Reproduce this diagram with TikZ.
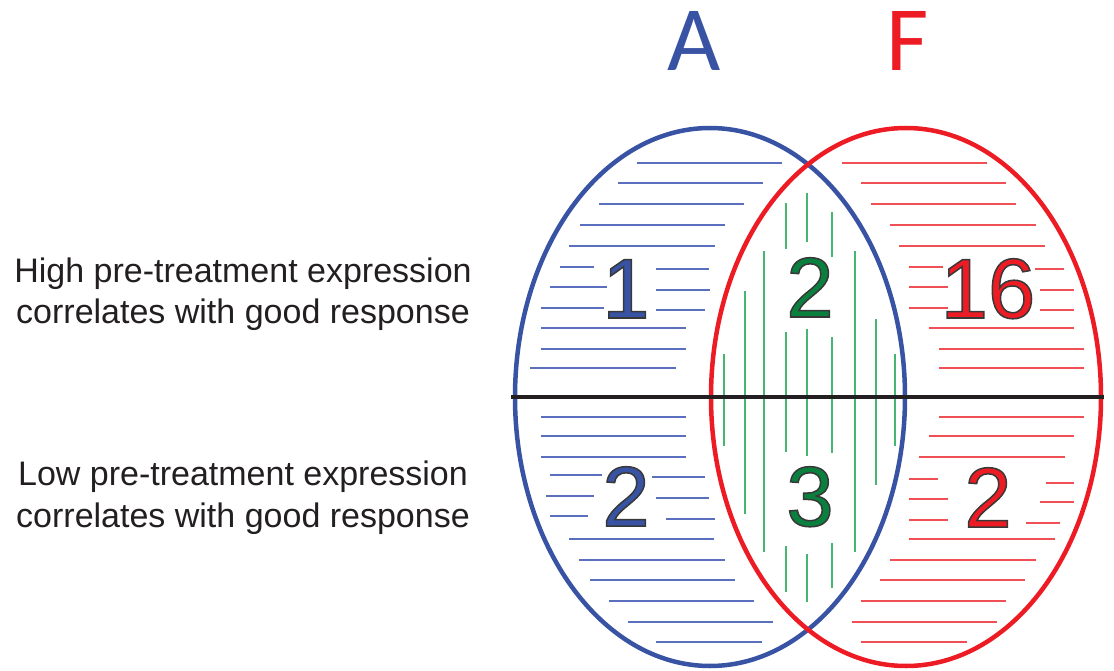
\documentclass[tikz,border=0pt]{standalone}
\usepackage{fontspec}
\setmainfont{Liberation Sans}
\newfontfamily\calfont{Carlito}
\definecolor{blueA}{RGB}{57,83,164}
\definecolor{redF}{RGB}{237,28,36}
\definecolor{greenN}{RGB}{10,128,62}
\definecolor{greenL}{RGB}{70,182,115}
\definecolor{blueL}{RGB}{90,112,190}
\definecolor{redL}{RGB}{240,80,85}
\definecolor{textc}{RGB}{35,31,32}
\newcommand\outnum[2]{\special{pdf:literal direct q}{\color{#1}\special{pdf:literal direct 2 Tr 1.5 w 0.22 0.22 0.22 RG}#2}\special{pdf:literal direct Q}}
\tikzset{
  hatchB/.style={draw=blueL, line width=1.3pt},
  hatchR/.style={draw=redL, line width=1.3pt},
  hatchG/.style={draw=greenL, line width=1.3pt},
  ring/.style={line width=4.5pt},
  numlabel/.style={anchor=base, inner sep=0pt, font=\fontsize{85}{85}\selectfont},
  sidelabel/.style={anchor=base, inner sep=0pt, text=textc, font=\fontsize{34}{40}\selectfont},
  setlabel/.style={anchor=base, inner sep=0pt, font=\calfont\fontsize{92}{92}\selectfont}
}
\begin{document}
\begin{tikzpicture}[x=1pt,y=-1pt]
\useasboundingbox (0,0) rectangle (1114,671);
% hatching
\foreach \y/\xa/\xb in {163/637/782, 183/618/763, 204/599/744, 225/580/725, 246/569/715, 267/560/594, 269/656/709, 287/550/607, 290/656/710, 308/541/604, 310/656/705, 328/541/686, 349/541/686, 368/530/676,
 417/541/686, 436/541/686, 457/541/686, 475/550/602, 477/652/705, 496/546/594, 498/656/709, 516/550/588, 519/666/715, 539/569/714, 560/579/725, 580/590/735, 601/609/754, 622/628/773, 642/656/762}
  \draw[hatchB] (\xa,\y) -- (\xb,\y);
\foreach \y/\xa/\xb in {163/842/987, 183/861/1006, 204/871/1016, 225/890/1036, 246/899/1045, 267/909/943, 269/1035/1064, 287/909/948, 290/1040/1074, 308/909/948, 310/1040/1074, 328/929/1074, 349/939/1084, 368/939/1084,
 417/939/1084, 436/929/1074, 457/919/1065, 479/909/938, 483/1046/1074, 499/909/948, 502/1040/1074, 520/909/948, 523/1026/1060, 539/909/1055, 560/890/1036, 580/880/1025, 601/861/1006, 622/852/997, 642/861/967}
  \draw[hatchR] (\xa,\y) -- (\xb,\y);
\foreach \x/\ya/\yb in {724/354/446, 745/291/514, 764/251/552, 786/203/249, 786/332/452, 786/546/592, 807/193/242, 807/329/456, 807/554/602, 832/212/257, 832/337/453, 832/543/588, 855/251/552, 876/319/485, 895/354/446}
  \draw[hatchG] (\x,\ya) -- (\x,\yb);
% sets
\draw[ring, draw=blueA] (710,397) ellipse [x radius=195, y radius=269];
\draw[ring, draw=redF] (906,397) ellipse [x radius=195, y radius=269];
% divider
\coordinate (divL) at (511,397);
\coordinate (divR) at (1104,397);
\draw[line width=4.8pt, draw=textc] (divL) -- (divR);
% set labels
\node[setlabel, text=blueA] (setA) at (694,71) {A};
\node[setlabel, text=redF] (setF) at (908,71) {F};
% counts
\node[numlabel] (n1) at (626,318) {\outnum{blueA}{1}};
\node[numlabel] (n2) at (810,317) {\outnum{greenN}{2}};
\node[numlabel] (n3) at (988,318) {\outnum{redF}{16}};
\node[numlabel] (n4) at (626,526) {\outnum{blueA}{2}};
\node[numlabel] (n5) at (810,526) {\outnum{greenN}{3}};
\node[numlabel] (n6) at (988,527) {\outnum{redF}{2}};
% side labels
\node[sidelabel] (hi1) at (243,283) {High pre-treatment expression};
\node[sidelabel] (hi2) at (243,323) {correlates with good response};
\node[sidelabel] (lo1) at (243,485) {Low pre-treatment expression};
\node[sidelabel] (lo2) at (243,527) {correlates with good response};
\end{tikzpicture}
\end{document}
